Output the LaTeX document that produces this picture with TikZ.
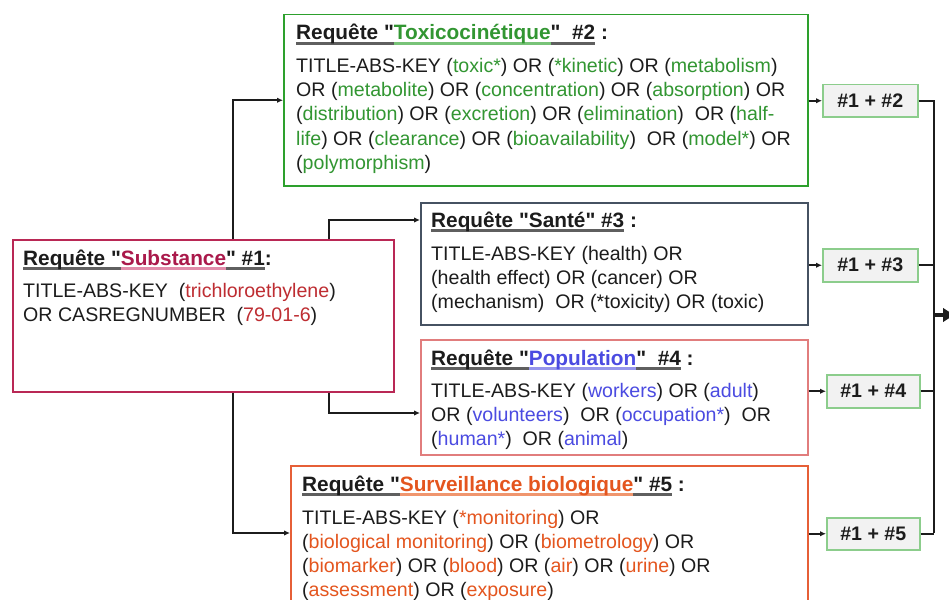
\documentclass[tikz,border=0pt]{standalone}
\usepackage{fontspec}
\setmainfont{Liberation Sans}[Ligatures=TeXOff]
\usetikzlibrary{arrows.meta}
\definecolor{ink}{RGB}{28,28,28}
\definecolor{ulgray}{RGB}{95,95,95}
\definecolor{grn}{RGB}{50,150,50}
\definecolor{grnline}{RGB}{45,160,45}
\definecolor{grnul}{RGB}{120,195,120}
\definecolor{crim}{RGB}{170,25,75}
\definecolor{crimline}{RGB}{185,40,85}
\definecolor{crimul}{RGB}{225,140,170}
\definecolor{brick}{RGB}{190,45,50}
\definecolor{slate}{RGB}{70,82,98}
\definecolor{blu}{RGB}{75,75,225}
\definecolor{bluul}{RGB}{150,150,235}
\definecolor{popline}{RGB}{225,125,125}
\definecolor{orn}{RGB}{228,85,30}
\definecolor{ornline}{RGB}{230,95,55}
\definecolor{ornul}{RGB}{240,150,110}
\definecolor{resfill}{RGB}{242,242,242}
\definecolor{resline}{RGB}{140,205,140}
\newcommand\ulc[3]{\setbox0\hbox{\color{#2}#3}\rlap{\color{#1}\rule[-4.8pt]{\wd0}{2.8pt}}\box0\relax}
\newcommand\kwG[1]{\textcolor{grn}{#1}}
\newcommand\kwR[1]{\textcolor{brick}{#1}}
\newcommand\kwB[1]{\textcolor{blu}{#1}}
\newcommand\kwO[1]{\textcolor{orn}{#1}}
\begin{document}
\begin{tikzpicture}[x=1pt,y=-1pt,
  qbox/.style={draw, line width=1.5pt, anchor=north west, inner sep=0pt, fill=white},
  rbox/.style={draw=resline, line width=1.5pt, fill=resfill, anchor=north west, inner sep=0pt,
    font=\fontsize{19.6}{24}\selectfont\bfseries, text=ink},
  ln/.style={anchor=base west, inner sep=0pt, text=ink, font=\fontsize{19.6}{24}\selectfont},
  ttl/.style={ln, font=\fontsize{20.8}{24}\selectfont\bfseries},
  conn/.style={line width=1.8pt, draw=ink, -{Latex[length=6pt,width=5.5pt]}},
  bus/.style={line width=2.2pt, draw=ink, line join=miter},
  outarr/.style={line width=4.5pt, draw=ink, -{Latex[length=14pt,width=15pt]}}]
\path[use as bounding box] (0,0) rectangle (949,599);
\clip (0,0) rectangle (949,599);

% query boxes
\node[qbox, draw=grnline, minimum width=524pt, minimum height=171pt] (b2) at (283,14) {};
\node[qbox, draw=crimline, minimum width=381pt, minimum height=152pt] (b1) at (12,239) {};
\node[qbox, draw=slate, minimum width=387pt, minimum height=122pt] (b3) at (420,202) {};
\node[qbox, draw=popline, minimum width=387pt, minimum height=115pt] (b4) at (420,339) {};
\node[qbox, draw=ornline, minimum width=517pt, minimum height=160pt] (b5) at (290,465) {};

% box 2 text
\node[ttl] (t2) at (296,40) {\ulc{ulgray}{ink}{Requête "}\ulc{grnul}{grn}{Toxicocinétique}\ulc{ulgray}{ink}{"\ \ \#2} :};
\node[ln] (t2a) at (296,73) {TITLE-ABS-KEY (\kwG{toxic*}) OR (\kwG{*kinetic}) OR (\kwG{metabolism})};
\node[ln] (t2b) at (296,97) {OR (\kwG{metabolite}) OR (\kwG{concentration}) OR (\kwG{absorption}) OR};
\node[ln] (t2c) at (296,121) {(\kwG{distribution}) OR (\kwG{excretion}) OR (\kwG{elimination})\ \ OR (\kwG{half-}};
\node[ln] (t2d) at (296,145) {\kwG{life}) OR (\kwG{clearance}) OR (\kwG{bioavailability})\ \ OR (\kwG{model*}) OR};
\node[ln] (t2e) at (296,169) {(\kwG{polymorphism})};

% box 1 text
\node[ttl] (t1) at (23,265) {\ulc{ulgray}{ink}{Requête "}\ulc{crimul}{crim}{Substance}\ulc{ulgray}{ink}{" \#1}:};
\node[ln] (t1a) at (23,297) {TITLE-ABS-KEY\ \ (\kwR{trichloroethylene})};
\node[ln] (t1b) at (23,321) {OR CASREGNUMBER\ \ (\kwR{79-01-6})};

% box 3 text
\node[ttl] (t3) at (431,227) {\ulc{ulgray}{ink}{Requête "Santé" \#3} :};
\node[ln] (t3a) at (431,260) {TITLE-ABS-KEY (health) OR};
\node[ln] (t3b) at (431,284) {(health effect) OR (cancer) OR};
\node[ln] (t3c) at (431,308) {(mechanism)\ \ OR (*toxicity) OR (toxic)};

% box 4 text
\node[ttl] (t4) at (431,365) {\ulc{ulgray}{ink}{Requête "}\ulc{bluul}{blu}{Population}\ulc{ulgray}{ink}{"\ \ \#4} :};
\node[ln] (t4a) at (431,397) {TITLE-ABS-KEY (\kwB{workers}) OR (\kwB{adult})};
\node[ln] (t4b) at (431,421) {OR (\kwB{volunteers})\ \ OR (\kwB{occupation*})\ \ OR};
\node[ln] (t4c) at (431,445) {(\kwB{human*})\ \ OR (\kwB{animal})};

% box 5 text
\node[ttl] (t5) at (302,491) {\ulc{ulgray}{ink}{Requête "}\ulc{ornul}{orn}{Surveillance biologique}\ulc{ulgray}{ink}{" \#5} :};
\node[ln] (t5a) at (302,524) {TITLE-ABS-KEY (\kwO{*monitoring}) OR};
\node[ln] (t5b) at (302,548) {(\kwO{biological monitoring}) OR (\kwO{biometrology}) OR};
\node[ln] (t5c) at (302,572) {(\kwO{biomarker}) OR (\kwO{blood}) OR (\kwO{air}) OR (\kwO{urine}) OR};
\node[ln] (t5d) at (302,596) {(\kwO{assessment}) OR (\kwO{exposure})};

% result boxes
\node[rbox, minimum width=95pt, minimum height=32pt] (r2) at (822,84) {\#1 + \#2};
\node[rbox, minimum width=95pt, minimum height=33pt] (r3) at (822,248) {\#1 + \#3};
\node[rbox, minimum width=93pt, minimum height=33pt] (r4) at (826,374) {\#1 + \#4};
\node[rbox, minimum width=93pt, minimum height=32pt] (r5) at (826,517) {\#1 + \#5};

% connectors from substance
\draw[conn] ([xshift=221pt]b1.north west) |- (b2.west);
\draw[conn] ([xshift=317pt]b1.north west) |- ([yshift=-18pt]b3.north west);
\draw[conn] ([xshift=317pt]b1.south west) |- ([yshift=-74pt]b4.north west);
\draw[conn] ([xshift=221pt]b1.south west) |- ([yshift=-68pt]b5.north west);

% connectors to results
\draw[conn] (b2.east |- r2.west) -- (r2.west);
\draw[conn] (b3.east |- r3.west) -- (r3.west);
\draw[conn] (b4.east |- r4.west) -- (r4.west);
\draw[conn] (b5.east |- r5.west) -- (r5.west);

% bus
\coordinate (bb) at (934,533);
\coordinate (out) at (957,315);
\draw[bus] (r2.east) -| (bb);
\draw[bus] (r5.east) -- (r5.east -| bb);
\draw[bus] (r3.east) -- (r3.east -| bb);
\draw[bus] (r4.east) -- (r4.east -| bb);
\draw[outarr] (out -| bb) -- (out);
\end{tikzpicture}
\end{document}
